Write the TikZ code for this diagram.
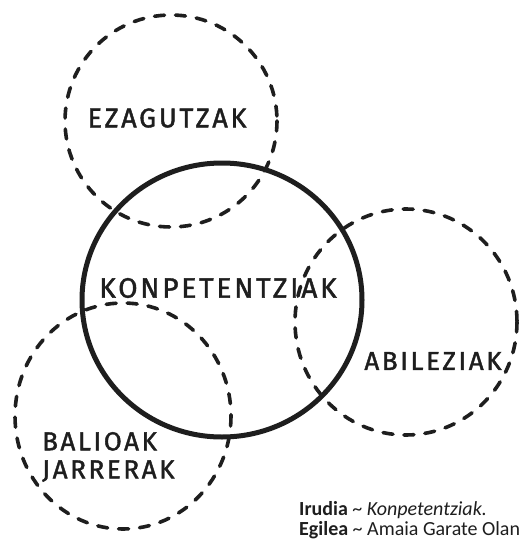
\documentclass[tikz,border=0pt]{standalone}
\usepackage{fontspec}
\setmainfont{Carlito}
\newfontfamily\handfont[LetterSpace=10,FakeBold=1.5]{Fira Sans}
\definecolor{ink}{HTML}{1E1E1E}
\tikzset{
  ring/.style={draw=ink,line width=3.6pt,line cap=round,dash pattern=on 10pt off 11pt},
  core/.style={draw=ink,line width=5pt},
  hand/.style={text=ink,inner sep=0pt,font=\handfont},
  caption/.style={text=ink,inner sep=0pt,anchor=base west,font=\fontsize{20}{24}\selectfont}
}
\begin{document}
\begin{tikzpicture}[x=1pt,y=-1pt]
  \useasboundingbox[fill=white] (0,0) rectangle (525,544);
  % dashed circles
  \draw[ring] (171,121) ellipse (106 and 106);
  \draw[ring] (406,322) ellipse (111 and 113);
  \draw[ring] (123,416) ellipse (108 and 113);
  % solid circle in the middle
  \draw[core] (222,300) ellipse (140 and 137);
  % labels
  \node[hand,font=\handfont\fontsize{27}{30}\selectfont] (ezagutzak) at (167,118) {EZAGUTZAK};
  \node[hand,font=\handfont\fontsize{28}{30}\selectfont] (konpetentziak) at (218,288) {KONPETENTZIAK};
  \node[hand,font=\handfont\fontsize{26}{30}\selectfont] (abileziak) at (433,361) {ABILEZIAK};
  \node[hand,anchor=west,align=left,font=\handfont\fontsize{26}{28}\selectfont] (balioak) at (42,457) {BALIOAK\\JARRERAK};
  % caption
  \node[caption] (irudia) at (299,515) {\textbf{Irudia} \textasciitilde{} \textit{Konpetentziak.}};
  \node[caption] (egilea) at (299,535) {\textbf{Egilea} \textasciitilde{} Amaia Garate Olan};
\end{tikzpicture}
\end{document}
